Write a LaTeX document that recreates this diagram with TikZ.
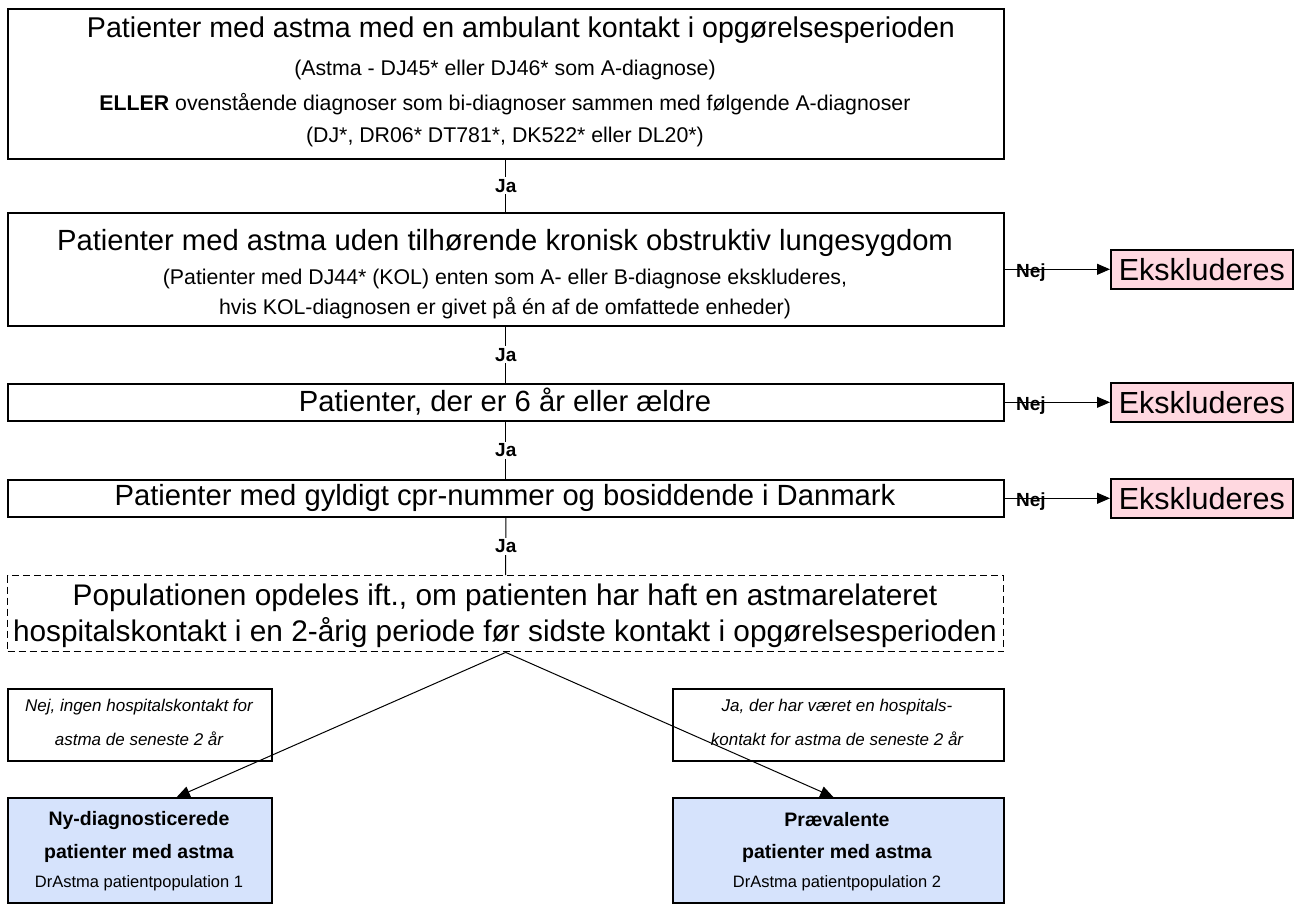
\documentclass[tikz,border=0pt]{standalone}
\usepackage{fontspec}
\setmainfont{Liberation Sans}
\usetikzlibrary{arrows.meta}
\definecolor{pinkfill}{RGB}{255,216,224}
\definecolor{bluefill}{RGB}{214,227,252}
\begin{document}
\begin{tikzpicture}[x=1pt,y=-1pt,
  box/.style={draw, line width=1.6pt, inner sep=0pt, anchor=north west},
  dbox/.style={draw, line width=1.4pt, dash pattern=on 7pt off 4pt, inner sep=0pt, anchor=north west},
  ebox/.style={draw, line width=1.6pt, fill=pinkfill, inner sep=0pt, anchor=north west,
     font=\fontsize{30.5}{32}\selectfont},
  bbox/.style={draw, line width=1.6pt, fill=bluefill, inner sep=0pt, anchor=north west},
  tbig/.style={font=\fontsize{29.2}{31}\selectfont, inner sep=0pt},
  ttitle/.style={font=\fontsize{28.6}{31}\selectfont, inner sep=0pt},
  tdash/.style={font=\fontsize{29.8}{31}\selectfont, inner sep=0pt},
  tmid/.style={font=\fontsize{21.3}{24}\selectfont, inner sep=0pt},
  tit/.style={font=\fontsize{17}{20}\selectfont\itshape, inner sep=0pt},
  tbold/.style={font=\fontsize{19.5}{22}\selectfont\bfseries, inner sep=0pt},
  tsmall/.style={font=\fontsize{16.5}{20}\selectfont, inner sep=0pt},
  jalab/.style={font=\fontsize{19}{20}\selectfont\bfseries, fill=white, inner sep=2pt},
  nejlab/.style={font=\fontsize{19}{20}\selectfont\bfseries, inner sep=0pt, yshift=-3pt},
  conn/.style={line width=1pt},
  arr/.style={line width=1pt, -{Triangle[length=13pt,width=11pt]}}
]
\useasboundingbox (0,0) rectangle (1298,904);

% main boxes
\node[box, minimum width=996pt, minimum height=150pt] (b1) at (7,8) {};
\node[box, minimum width=996pt, minimum height=113pt] (b2) at (7,212) {};
\node[box, minimum width=996pt, minimum height=37pt] (b3) at (7,383) {};
\node[box, minimum width=996pt, minimum height=37pt] (b4) at (7,479) {};
\node[dbox, minimum width=996pt, minimum height=76pt] (b5) at (7,575) {};

% texts
\node[ttitle] (t1a) at (521,30) {Patienter med astma med en ambulant kontakt i opgørelsesperioden};
\node[tmid] (t1b) at (505,70) {(Astma - DJ45* eller DJ46* som A-diagnose)};
\node[tmid] (t1c) at (505,104) {\textbf{ELLER} ovenstående diagnoser som bi-diagnoser sammen med følgende A-diagnoser};
\node[tmid] (t1d) at (505,137) {(DJ*, DR06* DT781*, DK522* eller DL20*)};

\node[tbig] (t2a) at (505,243) {Patienter med astma uden tilhørende kronisk obstruktiv lungesygdom};
\node[tmid] (t2b) at (505,279) {(Patienter med DJ44* (KOL) enten som A- eller B-diagnose ekskluderes,};
\node[tmid] (t2c) at (505,308) {hvis KOL-diagnosen er givet på én af de omfattede enheder)};

\node[tbig] (t3) at (505,402) {Patienter, der er 6 år eller ældre};
\node[tbig] (t4) at (505,498) {Patienter med gyldigt cpr-nummer og bosiddende i Danmark};

\node[tdash] (t5a) at (505,598) {Populationen opdeles ift., om patienten har haft en astmarelateret};
\node[tdash] (t5b) at (505,633) {hospitalskontakt i en 2-årig periode før sidste kontakt i opgørelsesperioden};

% exclusion boxes
\node[ebox, minimum width=182pt, minimum height=39pt] (e2) at (1110,249) {Ekskluderes};
\node[ebox, minimum width=182pt, minimum height=39pt] (e3) at (1110,382) {Ekskluderes};
\node[ebox, minimum width=182pt, minimum height=39pt] (e4) at (1110,478) {Ekskluderes};

% label boxes
\node[box, minimum width=264pt, minimum height=72pt] (l1) at (7,688) {};
\node[tit] (l1a) at (139,707) {Nej, ingen hospitalskontakt for};
\node[tit] (l1b) at (139,739) {astma de seneste 2 år};
\node[box, minimum width=331pt, minimum height=72pt] (l2) at (672,688) {};
\node[tit] (l2a) at (837,707) {Ja, der har været en hospitals-};
\node[tit] (l2b) at (837,739) {kontakt for astma de seneste 2 år};

% result boxes
\node[bbox, minimum width=264pt, minimum height=105pt] (r1) at (7,797) {};
\node[tbold] (r1a) at (139,820) {Ny-diagnosticerede};
\node[tbold] (r1b) at (139,853) {patienter med astma};
\node[tsmall] (r1c) at (139,883) {DrAstma patientpopulation 1};
\node[bbox, minimum width=331pt, minimum height=105pt] (r2) at (672,797) {};
\node[tbold] (r2a) at (837,820) {Prævalente};
\node[tbold] (r2b) at (837,853) {patienter med astma};
\node[tsmall] (r2c) at (837,883) {DrAstma patientpopulation 2};

% vertical connectors with Ja
\draw[conn] (b1.south) -- (b2.north) node[jalab, midway] (ja1) {Ja};
\draw[conn] (b2.south) -- (b3.north) node[jalab, midway] (ja2) {Ja};
\draw[conn] (b3.south) -- (b4.north) node[jalab, midway] (ja3) {Ja};
\draw[conn] (b4.south) -- (b5.north) node[jalab, midway] (ja4) {Ja};

% Nej arrows
\draw[arr] (b2.east) -- (e2.west) node[nejlab, pos=0.25] (n2) {Nej};
\draw[arr] (b3.east) -- (e3.west) node[nejlab, pos=0.25] (n3) {Nej};
\draw[arr] (b4.east) -- (e4.west) node[nejlab, pos=0.25] (n4) {Nej};

% split arrows
\coordinate (s1) at ([xshift=37pt]r1.north);
\coordinate (s2) at ([xshift=-5pt]r2.north);
\draw[arr] (b5.south) -- (s1);
\draw[arr] (b5.south) -- (s2);
\end{tikzpicture}
\end{document}
